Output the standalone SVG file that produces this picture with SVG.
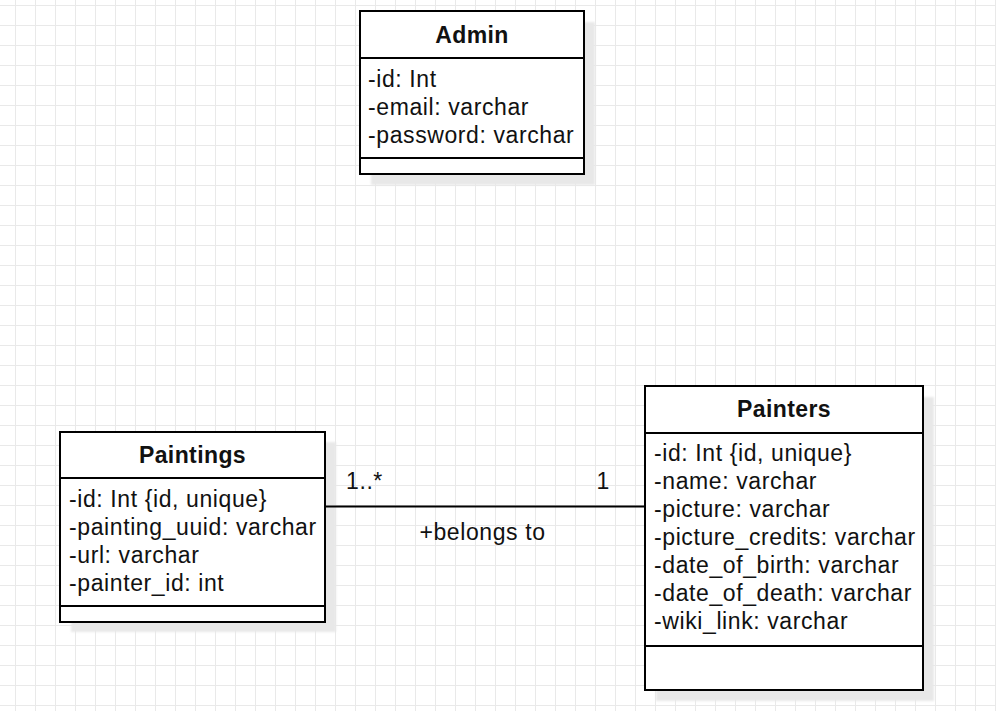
<svg xmlns="http://www.w3.org/2000/svg" width="996" height="711" viewBox="0 0 996 711">
<defs>
<pattern id="grid" patternUnits="userSpaceOnUse" x="15" y="5" width="20" height="20">
<path d="M0.5 0 V20 M0 0.5 H20" stroke="#e9e9e9" stroke-width="1" fill="none"/>
</pattern>
<filter id="blur" x="-10%" y="-10%" width="120%" height="120%"><feGaussianBlur stdDeviation="1.2"/></filter>
<style>
.box{fill:#fff;stroke:#000;stroke-width:2}
.shadow{fill:#e8e8e8;filter:url(#blur)}
.div{stroke:#000;stroke-width:2;fill:none}
.title{font-family:"Liberation Sans",Arial,sans-serif;font-size:23px;font-weight:bold;fill:#111;text-anchor:middle;letter-spacing:0.4px}
.attr{font-family:"Liberation Sans",Arial,sans-serif;font-size:23px;fill:#111;letter-spacing:0.6px}
.lbl{font-family:"Liberation Sans",Arial,sans-serif;font-size:23px;fill:#111;letter-spacing:0.6px}
.edge{stroke:#000;stroke-width:2;fill:none}
</style>
</defs>
<rect width="996" height="711" fill="#fff"/>
<rect width="996" height="711" fill="url(#grid)"/>

<g id="admin">
<rect class="shadow" x="371" y="22" width="224" height="163"/>
<rect class="box" x="360" y="11" width="224" height="163"/>
<path class="div" d="M360 58 H584 M360 158 H584"/>
<text class="title" x="472" y="43">Admin</text>
<text class="attr" x="368" y="86.5">-id: Int</text>
<text class="attr" x="368" y="114.5">-email: varchar</text>
<text class="attr" x="368" y="142.5">-password: varchar</text>
</g>

<g id="paintings">
<rect class="shadow" x="71" y="442" width="265" height="190"/>
<rect class="box" x="60" y="432" width="265" height="190"/>
<path class="div" d="M60 478 H325 M60 606 H325"/>
<text class="title" x="192.5" y="463">Paintings</text>
<text class="attr" x="69" y="507">-id: Int {id, unique}</text>
<text class="attr" x="69" y="535">-painting_uuid: varchar</text>
<text class="attr" x="69" y="563">-url: varchar</text>
<text class="attr" x="69" y="591">-painter_id: int</text>
</g>

<g id="painters">
<rect class="shadow" x="656" y="397" width="278" height="304"/>
<rect class="box" x="645" y="386" width="278" height="304"/>
<path class="div" d="M645 433 H923 M645 646 H923"/>
<text class="title" x="784" y="417">Painters</text>
<text class="attr" x="654" y="461">-id: Int {id, unique}</text>
<text class="attr" x="654" y="489">-name: varchar</text>
<text class="attr" x="654" y="517">-picture: varchar</text>
<text class="attr" x="654" y="545">-picture_credits: varchar</text>
<text class="attr" x="654" y="573">-date_of_birth: varchar</text>
<text class="attr" x="654" y="601">-date_of_death: varchar</text>
<text class="attr" x="654" y="629">-wiki_link: varchar</text>
</g>

<g id="connectors">
<path class="edge" d="M325 506.5 H645"/>
<text class="lbl" x="346" y="489">1..*</text>
<text class="lbl" x="610" y="489" text-anchor="end">1</text>
<text class="lbl" x="482.5" y="540" text-anchor="middle">+belongs to</text>
</g>
</svg>
